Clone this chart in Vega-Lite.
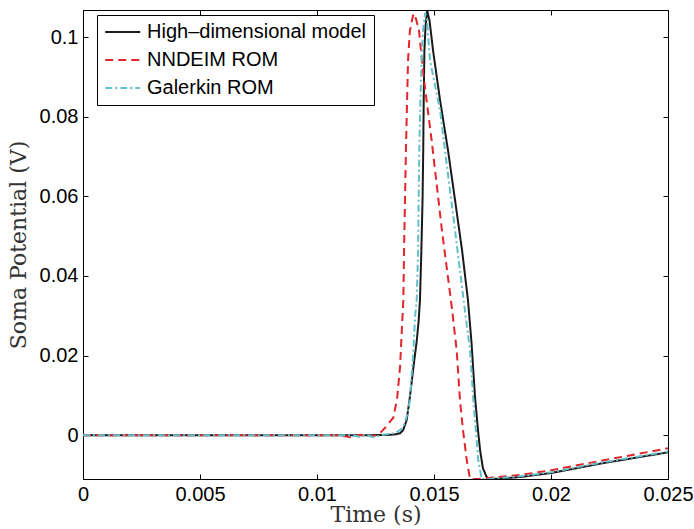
{
  "$schema": "https://vega.github.io/schema/vega-lite/v6.json",
  "autosize": "none",
  "width": 585,
  "height": 469,
  "padding": {"left": 83, "top": 10, "right": 26, "bottom": 50},
  "background": "white",
  "config": {
    "view": {"stroke": "black", "strokeWidth": 1},
    "axis": {
      "domainColor": "black",
      "tickColor": "black",
      "labelColor": "black",
      "labelFont": "Liberation Sans",
      "labelFontSize": 20,
      "titleFont": "DejaVu Serif",
      "titleFontWeight": "normal",
      "titleFontSize": 22,
      "titleColor": "#333",
      "grid": false
    }
  },
  "data": {
    "values": [
      {"s": "High–dimensional model", "t": 0, "v": 0},
      {"s": "High–dimensional model", "t": 0.005, "v": 0},
      {"s": "High–dimensional model", "t": 0.01, "v": 0},
      {"s": "High–dimensional model", "t": 0.012, "v": 0},
      {"s": "High–dimensional model", "t": 0.013, "v": 0.00005},
      {"s": "High–dimensional model", "t": 0.01333, "v": 0.0002},
      {"s": "High–dimensional model", "t": 0.01355, "v": 0.0005},
      {"s": "High–dimensional model", "t": 0.01368, "v": 0.00125},
      {"s": "High–dimensional model", "t": 0.01383, "v": 0.00376},
      {"s": "High–dimensional model", "t": 0.01393, "v": 0.0078},
      {"s": "High–dimensional model", "t": 0.01405, "v": 0.0135},
      {"s": "High–dimensional model", "t": 0.01415, "v": 0.0185},
      {"s": "High–dimensional model", "t": 0.01426, "v": 0.0235},
      {"s": "High–dimensional model", "t": 0.01434, "v": 0.0285},
      {"s": "High–dimensional model", "t": 0.0144, "v": 0.0339},
      {"s": "High–dimensional model", "t": 0.01446, "v": 0.0464},
      {"s": "High–dimensional model", "t": 0.01451, "v": 0.059},
      {"s": "High–dimensional model", "t": 0.01454, "v": 0.0715},
      {"s": "High–dimensional model", "t": 0.01456, "v": 0.0841},
      {"s": "High–dimensional model", "t": 0.01459, "v": 0.0966},
      {"s": "High–dimensional model", "t": 0.01464, "v": 0.1029},
      {"s": "High–dimensional model", "t": 0.01471, "v": 0.1066},
      {"s": "High–dimensional model", "t": 0.01481, "v": 0.1041},
      {"s": "High–dimensional model", "t": 0.01496, "v": 0.0966},
      {"s": "High–dimensional model", "t": 0.01526, "v": 0.0841},
      {"s": "High–dimensional model", "t": 0.0156, "v": 0.0715},
      {"s": "High–dimensional model", "t": 0.0159, "v": 0.059},
      {"s": "High–dimensional model", "t": 0.0162, "v": 0.0464},
      {"s": "High–dimensional model", "t": 0.01645, "v": 0.034},
      {"s": "High–dimensional model", "t": 0.0166, "v": 0.0235},
      {"s": "High–dimensional model", "t": 0.01675, "v": 0.0098},
      {"s": "High–dimensional model", "t": 0.01688, "v": 0.00125},
      {"s": "High–dimensional model", "t": 0.01697, "v": -0.0038},
      {"s": "High–dimensional model", "t": 0.01709, "v": -0.0083},
      {"s": "High–dimensional model", "t": 0.01725, "v": -0.0105},
      {"s": "High–dimensional model", "t": 0.01739, "v": -0.011},
      {"s": "High–dimensional model", "t": 0.0178, "v": -0.0109},
      {"s": "High–dimensional model", "t": 0.01868, "v": -0.0105},
      {"s": "High–dimensional model", "t": 0.02, "v": -0.0095},
      {"s": "High–dimensional model", "t": 0.02224, "v": -0.007},
      {"s": "High–dimensional model", "t": 0.025, "v": -0.0043},

      {"s": "NNDEIM ROM", "t": 0, "v": 0},
      {"s": "NNDEIM ROM", "t": 0.005, "v": 0},
      {"s": "NNDEIM ROM", "t": 0.011, "v": 0},
      {"s": "NNDEIM ROM", "t": 0.01141, "v": -0.0005},
      {"s": "NNDEIM ROM", "t": 0.01184, "v": 0.0001},
      {"s": "NNDEIM ROM", "t": 0.01239, "v": -0.0003},
      {"s": "NNDEIM ROM", "t": 0.01269, "v": 0.0005},
      {"s": "NNDEIM ROM", "t": 0.0129, "v": 0.0018},
      {"s": "NNDEIM ROM", "t": 0.01326, "v": 0.0044},
      {"s": "NNDEIM ROM", "t": 0.01342, "v": 0.009},
      {"s": "NNDEIM ROM", "t": 0.01355, "v": 0.0172},
      {"s": "NNDEIM ROM", "t": 0.01363, "v": 0.027},
      {"s": "NNDEIM ROM", "t": 0.01369, "v": 0.0339},
      {"s": "NNDEIM ROM", "t": 0.01372, "v": 0.0464},
      {"s": "NNDEIM ROM", "t": 0.01376, "v": 0.059},
      {"s": "NNDEIM ROM", "t": 0.0138, "v": 0.0715},
      {"s": "NNDEIM ROM", "t": 0.01385, "v": 0.0841},
      {"s": "NNDEIM ROM", "t": 0.01389, "v": 0.0941},
      {"s": "NNDEIM ROM", "t": 0.01397, "v": 0.1016},
      {"s": "NNDEIM ROM", "t": 0.01412, "v": 0.1059},
      {"s": "NNDEIM ROM", "t": 0.01423, "v": 0.1046},
      {"s": "NNDEIM ROM", "t": 0.01436, "v": 0.1016},
      {"s": "NNDEIM ROM", "t": 0.01454, "v": 0.0908},
      {"s": "NNDEIM ROM", "t": 0.0149, "v": 0.074},
      {"s": "NNDEIM ROM", "t": 0.01534, "v": 0.0514},
      {"s": "NNDEIM ROM", "t": 0.01576, "v": 0.0322},
      {"s": "NNDEIM ROM", "t": 0.01597, "v": 0.0213},
      {"s": "NNDEIM ROM", "t": 0.01611, "v": 0.0088},
      {"s": "NNDEIM ROM", "t": 0.01624, "v": 0.00125},
      {"s": "NNDEIM ROM", "t": 0.0164, "v": -0.0063},
      {"s": "NNDEIM ROM", "t": 0.01654, "v": -0.011},
      {"s": "NNDEIM ROM", "t": 0.01688, "v": -0.011},
      {"s": "NNDEIM ROM", "t": 0.01868, "v": -0.01},
      {"s": "NNDEIM ROM", "t": 0.02, "v": -0.0088},
      {"s": "NNDEIM ROM", "t": 0.02224, "v": -0.0063},
      {"s": "NNDEIM ROM", "t": 0.025, "v": -0.0033},

      {"s": "Galerkin ROM", "t": 0, "v": 0},
      {"s": "Galerkin ROM", "t": 0.005, "v": 0},
      {"s": "Galerkin ROM", "t": 0.0115, "v": 0},
      {"s": "Galerkin ROM", "t": 0.0118, "v": -0.0004},
      {"s": "Galerkin ROM", "t": 0.0121, "v": 0.0001},
      {"s": "Galerkin ROM", "t": 0.0124, "v": -0.0005},
      {"s": "Galerkin ROM", "t": 0.0128, "v": 0.0001},
      {"s": "Galerkin ROM", "t": 0.01333, "v": 0.0005},
      {"s": "Galerkin ROM", "t": 0.01355, "v": 0.0013},
      {"s": "Galerkin ROM", "t": 0.01369, "v": 0.0021},
      {"s": "Galerkin ROM", "t": 0.01385, "v": 0.005},
      {"s": "Galerkin ROM", "t": 0.01397, "v": 0.0088},
      {"s": "Galerkin ROM", "t": 0.01412, "v": 0.0213},
      {"s": "Galerkin ROM", "t": 0.01419, "v": 0.0297},
      {"s": "Galerkin ROM", "t": 0.01426, "v": 0.0339},
      {"s": "Galerkin ROM", "t": 0.01432, "v": 0.0464},
      {"s": "Galerkin ROM", "t": 0.01437, "v": 0.0715},
      {"s": "Galerkin ROM", "t": 0.01442, "v": 0.0841},
      {"s": "Galerkin ROM", "t": 0.01447, "v": 0.0941},
      {"s": "Galerkin ROM", "t": 0.01453, "v": 0.1016},
      {"s": "Galerkin ROM", "t": 0.01462, "v": 0.1061},
      {"s": "Galerkin ROM", "t": 0.0147, "v": 0.1046},
      {"s": "Galerkin ROM", "t": 0.01483, "v": 0.0941},
      {"s": "Galerkin ROM", "t": 0.01526, "v": 0.0816},
      {"s": "Galerkin ROM", "t": 0.01547, "v": 0.0715},
      {"s": "Galerkin ROM", "t": 0.0159, "v": 0.0514},
      {"s": "Galerkin ROM", "t": 0.01632, "v": 0.0314},
      {"s": "Galerkin ROM", "t": 0.01654, "v": 0.0213},
      {"s": "Galerkin ROM", "t": 0.01668, "v": 0.0088},
      {"s": "Galerkin ROM", "t": 0.01679, "v": 0.00125},
      {"s": "Galerkin ROM", "t": 0.01689, "v": -0.0063},
      {"s": "Galerkin ROM", "t": 0.01704, "v": -0.011},
      {"s": "Galerkin ROM", "t": 0.01739, "v": -0.011},
      {"s": "Galerkin ROM", "t": 0.01868, "v": -0.0103},
      {"s": "Galerkin ROM", "t": 0.02, "v": -0.0093},
      {"s": "Galerkin ROM", "t": 0.02224, "v": -0.0068},
      {"s": "Galerkin ROM", "t": 0.025, "v": -0.0041}
    ]
  },
  "layer": [
    {
      "mark": {"type": "line", "strokeWidth": 2, "clip": true},
      "encoding": {
        "x": {
          "field": "t", "type": "quantitative",
          "scale": {"domain": [0, 0.025], "nice": false, "zero": false},
          "axis": {"title": "Time (s)", "values": [0, 0.005, 0.01, 0.015, 0.02, 0.025], "format": "~g", "labelPadding": 5, "titlePadding": 0, "labelFlush": false, "ticks": false}
        },
        "y": {
          "field": "v", "type": "quantitative",
          "scale": {"domain": [-0.011, 0.1068], "nice": false, "zero": false},
          "axis": {"title": "Soma Potential (V)", "values": [0, 0.02, 0.04, 0.06, 0.08, 0.1], "format": "~g", "labelPadding": 5, "titlePadding": 9, "ticks": false}
        },
        "color": {
          "field": "s", "type": "nominal",
          "scale": {"domain": ["High–dimensional model", "NNDEIM ROM", "Galerkin ROM"], "range": ["#1a1a1a", "#e3242b", "#63bfcb"]},
          "legend": {
            "orient": "none", "legendX": 14, "legendY": 5, "title": null,
            "strokeColor": "black", "fillColor": "white", "padding": 7,
            "symbolType": "M-1,0H3", "symbolSize": 306, "symbolStrokeWidth": 2,
            "labelFont": "Liberation Sans", "labelFontSize": 20, "labelColor": "black",
            "labelOffset": 23, "rowPadding": 8, "labelLimit": 400
          }
        },
        "strokeDash": {
          "field": "s", "type": "nominal",
          "scale": {"domain": ["High–dimensional model", "NNDEIM ROM", "Galerkin ROM"], "range": [[1, 0], [8, 5], [7, 3, 2, 3]]},
          "legend": {
            "orient": "none", "legendX": 14, "legendY": 5, "title": null,
            "strokeColor": "black", "fillColor": "white", "padding": 7,
            "symbolType": "M-1,0H3", "symbolSize": 306, "symbolStrokeWidth": 2,
            "labelFont": "Liberation Sans", "labelFontSize": 20, "labelColor": "black",
            "labelOffset": 23, "rowPadding": 8, "labelLimit": 400
          }
        },
        "order": {"field": "t", "type": "quantitative"}
      }
    },
    {
      "mark": {"type": "line", "opacity": 0},
      "encoding": {
        "x": {
          "field": "t", "type": "quantitative",
          "axis": {"orient": "top", "title": null, "labels": false, "domain": false, "offset": -5, "values": [0, 0.005, 0.01, 0.015, 0.02, 0.025], "tickSize": 5}
        },
        "y": {
          "field": "v", "type": "quantitative",
          "axis": {"orient": "right", "title": null, "labels": false, "domain": false, "offset": -5, "values": [0, 0.02, 0.04, 0.06, 0.08, 0.1], "tickSize": 5}
        },
        "detail": {"field": "s", "type": "nominal"}
      }
    },
    {
      "mark": {"type": "line", "opacity": 0},
      "encoding": {
        "x": {
          "field": "t", "type": "quantitative",
          "axis": {"orient": "bottom", "title": null, "labels": false, "domain": false, "offset": -5, "values": [0, 0.005, 0.01, 0.015, 0.02, 0.025], "tickSize": 5}
        },
        "y": {
          "field": "v", "type": "quantitative",
          "axis": {"orient": "left", "title": null, "labels": false, "domain": false, "offset": -5, "values": [0, 0.02, 0.04, 0.06, 0.08, 0.1], "tickSize": 5}
        },
        "detail": {"field": "s", "type": "nominal"}
      }
    }
  ],
  "resolve": {"axis": {"x": "independent", "y": "independent"}}
}
